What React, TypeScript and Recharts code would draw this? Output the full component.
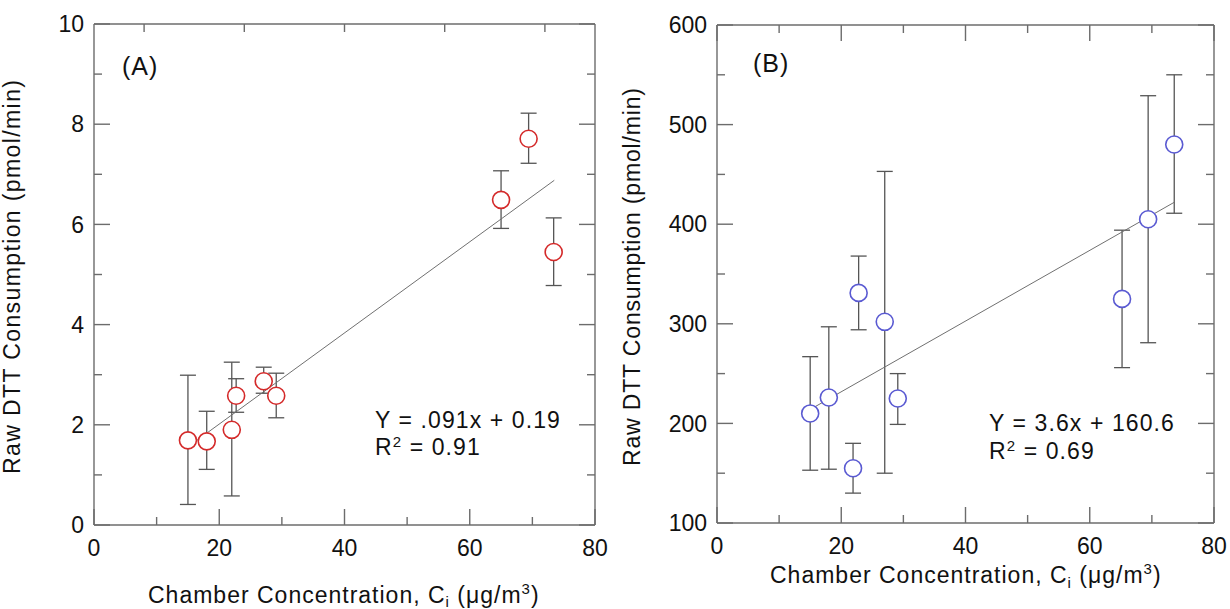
import React from 'react'
import { ScatterChart, Scatter, XAxis, YAxis, ErrorBar, ReferenceLine } from 'recharts'

// ── Data ─────────────────────────────────────────────────────────────────────

// panel A: raw DTT consumption (pmol/min) vs chamber concentration
const concA = [15.0, 18.0, 22.0, 22.7, 27.1, 29.1, 65.0, 69.4, 73.4]
const dttA = [1.69, 1.67, 1.90, 2.58, 2.87, 2.58, 6.49, 7.71, 5.45]
const lowA = [0.41, 1.11, 0.58, 2.25, 2.63, 2.14, 5.92, 7.22, 4.78]
const highA = [2.99, 2.27, 3.25, 2.92, 3.15, 3.03, 7.07, 8.22, 6.13]
const fitXA = [15, 73.5]
const fitYA = [1.56, 6.88]

// panel B
const concB = [15.0, 18.0, 21.9, 22.8, 27.0, 29.1, 65.2, 69.4, 73.6]
const dttB = [210, 226, 155, 331, 302, 225, 325, 405, 480]
const lowB = [153, 154, 130, 294, 150, 199, 256, 281, 411]
const highB = [267, 297, 180, 368, 453, 250, 394, 529, 550]
const fitXB = [15, 73.6]
const fitYB = [214, 422]

// ticks
const xMajor = [0, 20, 40, 60, 80]
const xMinor = [10, 30, 50, 70]
const xTopA = [8, 24, 40, 56, 72]
const yMajorA = [0, 2, 4, 6, 8, 10]
const yMinorA = [1, 3, 5, 7, 9]
const yMajorB = [100, 200, 300, 400, 500, 600]
const yMinorB = [150, 250, 350, 450, 550]

const xTitle = 'Chamber Concentration, C'
const yTitle = 'Raw DTT Consumption (pmol/min)'

// ── Styles ───────────────────────────────────────────────────────────────────

const FONT = 'Arial, "Liberation Sans", Helvetica, sans-serif'
const AXIS = '#6c6c6c'
const BAR = '#555555'
const RED = '#d42a2a'
const BLUE = '#5a5ad2'

const toRows = (x: number[], y: number[], lo: number[], hi: number[]) =>
  x.map((v, i) => ({ x: v, y: y[i], err: [y[i] - lo[i], hi[i] - y[i]] }))
const toFit = (x: number[], y: number[]) => x.map((v, i) => ({ x: v, y: y[i] }))

// ticks are drawn inward on all four sides, labels only on the majors
function makeYTick(major: number[], minor: number[], plotW: number) {
  return (p: any) => {
    const v = p.payload.value
    const isMajor = major.includes(v)
    if (!isMajor && !minor.includes(v)) return <g />
    const L = isMajor ? 16 : 8
    return (
      <g>
        <line x1={p.x} x2={p.x + L} y1={p.y} y2={p.y} stroke={AXIS} strokeWidth={1.4} />
        <line x1={p.x + plotW - L} x2={p.x + plotW} y1={p.y} y2={p.y} stroke={AXIS} strokeWidth={1.4} />
        {isMajor && (
          <text x={p.x - 10} y={p.y} dy="0.36em" textAnchor="end" fontSize={23} fontFamily={FONT} fill="#111">
            {v}
          </text>
        )}
      </g>
    )
  }
}

function makeXTick(major: number[], minor: number[], topMajor: number[], topMinor: number[], plotH: number) {
  return (p: any) => {
    const v = p.payload.value
    const bMaj = major.includes(v)
    const bMin = minor.includes(v)
    const tMaj = topMajor.includes(v)
    const tMin = topMinor.includes(v)
    const yt = p.y - plotH
    return (
      <g>
        {(bMaj || bMin) && (
          <line x1={p.x} x2={p.x} y1={p.y} y2={p.y - (bMaj ? 16 : 8)} stroke={AXIS} strokeWidth={1.4} />
        )}
        {(tMaj || tMin) && (
          <line x1={p.x} x2={p.x} y1={yt} y2={yt + (tMaj ? 16 : 8)} stroke={AXIS} strokeWidth={1.4} />
        )}
        {bMaj && (
          <text x={p.x} y={p.y + 31} textAnchor="middle" fontSize={23} fontFamily={FONT} fill="#111">
            {v}
          </text>
        )}
      </g>
    )
  }
}

const circle = (color: string) => (p: any) =>
  <circle cx={p.cx} cy={p.cy} r={8.5} fill="#fff" stroke={color} strokeWidth={1.6} />
const noDot = () => <g />

type PanelProps = {
  rows: { x: number; y: number; err: number[] }[]
  fit: { x: number; y: number }[]
  color: string
  yDomain: [number, number]
  yMajor: number[]
  yMinor: number[]
  xTopMajor: number[]
  xTopMinor: number[]
  margin: { top: number; right: number; bottom: number; left: number }
  plotW: number
  plotH: number
}

function Panel({ rows, fit, color, yDomain, yMajor, yMinor, xTopMajor, xTopMinor, margin, plotW, plotH }: PanelProps) {
  const yTicks = [...yMajor, ...yMinor].sort((a, b) => a - b)
  const xTicks = Array.from(new Set([...xMajor, ...xMinor, ...xTopMajor, ...xTopMinor])).sort((a, b) => a - b)
  return (
    <ScatterChart width={615} height={609} margin={margin}>
      <XAxis
        type="number"
        dataKey="x"
        domain={[0, 80]}
        ticks={xTicks}
        interval={0}
        allowDataOverflow
        height={40}
        tickSize={0}
        tickMargin={0}
        tickLine={false}
        axisLine={{ stroke: AXIS, strokeWidth: 1.4 }}
        tick={makeXTick(xMajor, xMinor, xTopMajor, xTopMinor, plotH)}
      />
      <YAxis
        type="number"
        dataKey="y"
        domain={yDomain}
        ticks={yTicks}
        interval={0}
        allowDataOverflow
        width={60}
        tickSize={0}
        tickMargin={0}
        tickLine={false}
        axisLine={{ stroke: AXIS, strokeWidth: 1.4 }}
        tick={makeYTick(yMajor, yMinor, plotW)}
      />
      <ReferenceLine y={yDomain[1]} stroke={AXIS} strokeWidth={1.4} />
      <ReferenceLine x={80} stroke={AXIS} strokeWidth={1.4} />
      <Scatter data={fit} line={{ stroke: '#707070', strokeWidth: 1 }} shape={noDot} isAnimationActive={false} />
      <Scatter data={rows} shape={circle(color)} isAnimationActive={false}>
        <ErrorBar dataKey="err" direction="y" width={8} stroke={BAR} strokeWidth={1.3} />
      </Scatter>
    </ScatterChart>
  )
}

const textStyle = { fontFamily: FONT, fill: '#111' }

export default function App() {
  return (
    <div style={{ position: 'absolute', left: 0, top: 0, width: 1230, height: 609, background: '#fff', overflow: 'hidden' }}>
      <div style={{ position: 'absolute', left: 0, top: 0 }}>
        <Panel
          rows={toRows(concA, dttA, lowA, highA)}
          fit={toFit(fitXA, fitYA)}
          color={RED}
          yDomain={[0, 10]}
          yMajor={yMajorA}
          yMinor={yMinorA}
          xTopMajor={[]}
          xTopMinor={xTopA}
          margin={{ top: 24, right: 20, bottom: 44, left: 34 }}
          plotW={501}
          plotH={501}
        />
      </div>
      <div style={{ position: 'absolute', left: 615, top: 0 }}>
        <Panel
          rows={toRows(concB, dttB, lowB, highB)}
          fit={toFit(fitXB, fitYB)}
          color={BLUE}
          yDomain={[100, 600]}
          yMajor={yMajorB}
          yMinor={yMinorB}
          xTopMajor={xMajor}
          xTopMinor={xMinor}
          margin={{ top: 25, right: 16, bottom: 46, left: 42 }}
          plotW={497}
          plotH={498}
        />
      </div>
      <svg width={1230} height={609} style={{ position: 'absolute', left: 0, top: 0, pointerEvents: 'none' }}>
        <text x={122} y={75} fontSize={25} letterSpacing={1} {...textStyle}>(A)</text>
        <text x={753} y={72} fontSize={25} letterSpacing={1} {...textStyle}>(B)</text>

        <text x={375} y={428} fontSize={23} letterSpacing={1.1} {...textStyle}>Y = .091x + 0.19</text>
        <text x={375} y={455} fontSize={23} letterSpacing={1.1} {...textStyle}>
          R<tspan fontSize={15} dy={-8}>2</tspan><tspan dy={8}> = 0.91</tspan>
        </text>
        <text x={989} y={431} fontSize={23} letterSpacing={1.1} {...textStyle}>Y = 3.6x + 160.6</text>
        <text x={989} y={459} fontSize={23} letterSpacing={1.1} {...textStyle}>
          R<tspan fontSize={15} dy={-8}>2</tspan><tspan dy={8}> = 0.69</tspan>
        </text>

        <text transform="translate(20,277) rotate(-90)" textAnchor="middle" fontSize={23} textLength={394} lengthAdjust="spacing" {...textStyle}>
          {yTitle}
        </text>
        <text transform="translate(640,277) rotate(-90)" textAnchor="middle" fontSize={23} textLength={378} lengthAdjust="spacing" {...textStyle}>
          {yTitle}
        </text>

        <text x={148} y={603} fontSize={23} letterSpacing={1} {...textStyle}>
          {xTitle}<tspan fontSize={15} dy={4}>i</tspan><tspan dy={-4}> (μg/m</tspan><tspan fontSize={15} dy={-9}>3</tspan><tspan dy={9}>)</tspan>
        </text>
        <text x={770} y={583} fontSize={23} letterSpacing={1} {...textStyle}>
          {xTitle}<tspan fontSize={15} dy={5}>i</tspan><tspan dy={-5}> (μg/m</tspan><tspan fontSize={15} dy={-9}>3</tspan><tspan dy={9}>)</tspan>
        </text>
      </svg>
    </div>
  )
}
